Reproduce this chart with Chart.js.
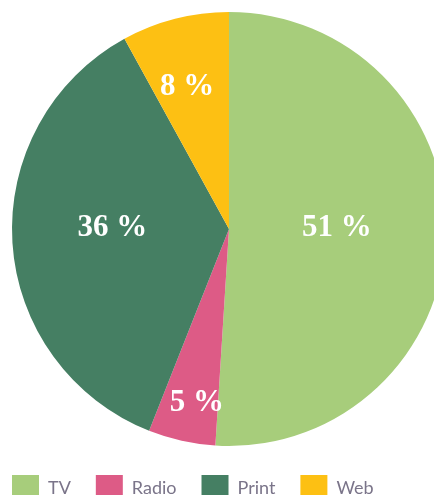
<!DOCTYPE html>
<html>
<head>
<meta charset="utf-8">
<script src="https://cdn.jsdelivr.net/npm/chart.js@4/dist/chart.umd.min.js"></script>
<style>
  html, body { margin: 0; padding: 0; background: #ffffff; overflow: hidden; }
  body { width: 434px; height: 495px; position: relative; }
  #wrap { position: absolute; left: -13px; top: 0; width: 484px; height: 512px; }
</style>
</head>
<body>
<div id="wrap"><canvas id="chart" width="484" height="512"></canvas></div>
<script>
// Media share by channel (percent)
const categories = ['TV', 'Radio', 'Print', 'Web'];
const shares = [51, 5, 36, 8];
const colors = ['#a7cd7b', '#dd5b86', '#457f63', '#fdc013'];

// Where each value label sits inside its slice: fraction of the radius and a small angular nudge (degrees)
const labelRadius = [0.497, 0.802, 0.538, 0.696];
const labelNudge = [-3.7, -2.0, 5.8, -1.7];

const sliceLabels = {
  id: 'sliceLabels',
  afterDatasetsDraw(chart) {
    const ctx = chart.ctx;
    const meta = chart.getDatasetMeta(0);
    ctx.save();
    ctx.fillStyle = '#ffffff';
    ctx.font = 'bold 31px "Liberation Serif", "DejaVu Serif", serif';
    ctx.textAlign = 'center';
    ctx.textBaseline = 'middle';
    meta.data.forEach((arc, i) => {
      const p = arc.getProps(['x', 'y', 'startAngle', 'endAngle', 'outerRadius'], true);
      const mid = (p.startAngle + p.endAngle) / 2 + labelNudge[i] * Math.PI / 180;
      const r = p.outerRadius * labelRadius[i];
      const x = p.x + Math.cos(mid) * r;
      const y = p.y + Math.sin(mid) * r + 3;
      ctx.fillText(shares[i] + ' %', x, y);
    });
    ctx.restore();
  }
};

new Chart(document.getElementById('chart'), {
  type: 'pie',
  data: {
    labels: categories,
    datasets: [{
      data: shares,
      backgroundColor: colors,
      borderWidth: 0,
      radius: 217
    }]
  },
  options: {
    responsive: false,
    animation: false,
    events: [],
    layout: { padding: { top: 8, left: 0, right: 0, bottom: 0 } },
    plugins: {
      tooltip: { enabled: false },
      legend: {
        position: 'bottom',
        align: 'start',
        labels: {
          boxWidth: 27,
          boxHeight: 27,
          padding: 25,
          color: '#7a7489',
          font: { family: 'Lato, "Noto Sans", sans-serif', size: 18 }
        }
      }
    }
  },
  plugins: [sliceLabels]
});
</script>
</body>
</html>
